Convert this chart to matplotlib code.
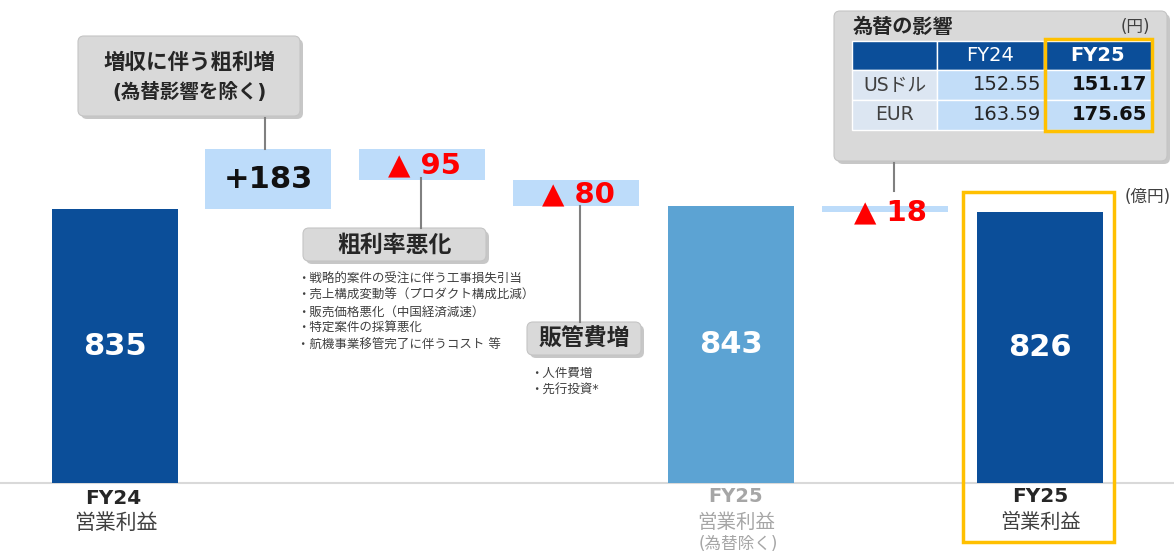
import matplotlib
matplotlib.use("Agg")
import matplotlib.pyplot as plt
from matplotlib.patches import FancyBboxPatch, Rectangle
import numpy as np

plt.rcParams['font.family'] = ['DejaVu Sans', 'Noto Sans CJK JP']

# ---------------- data ----------------
step_labels = ['FY24 営業利益', '増収に伴う粗利増', '粗利率悪化', '販管費増',
               'FY25 営業利益(為替除く)', '為替の影響', 'FY25 営業利益']
step_values = [835, 183, -95, -80, 843, -18, 826]
step_kind = ['total', 'delta', 'delta', 'delta', 'total', 'delta', 'total']
delta_texts = ['', '+183', '▲ 95', '▲ 80', '', '▲ 18', '']

fx_rows = ['USドル', 'EUR']
fx_cols = ['FY24', 'FY25']
fx_fy24 = [152.55, 163.59]
fx_fy25 = [151.17, 175.65]

gross_bullets = ['・戦略的案件の受注に伴う工事損失引当',
                 '・売上構成変動等（プロダクト構成比減）',
                 '・販売価格悪化（中国経済減速）',
                 '・特定案件の採算悪化',
                 '・航機事業移管完了に伴うコスト 等']
sga_bullets = ['・人件費増', '・先行投資*']

# ---------------- layout ----------------
W, H = 1174, 553
fig = plt.figure(figsize=(W / 100, H / 100), dpi=100)
fig.patch.set_facecolor('white')

base_px = 483.0
scale = 0.328
ax = fig.add_axes([0, 0, 1, 1])
ax.set_xlim(0, W)
ax.set_ylim((base_px - H) / scale, base_px / scale)
ax.axis('off')

ov = fig.add_axes([0, 0, 1, 1], zorder=5)
ov.set_xlim(0, W)
ov.set_ylim(H, 0)
ov.axis('off')
ov.patch.set_alpha(0)

dark_blue = '#0B4E99'
mid_blue = '#5CA3D3'
light_blue = '#BDDCFA'
red = '#FF0000'
yellow = '#FFC000'

x_centers = [115, 268, 422, 576, 731, 885, 1040]
bar_w = 126

# baseline
ax.axhline(0, color='#D9D9D9', lw=1.5, zorder=1)

running = 0
for i, (v, kind) in enumerate(zip(step_values, step_kind)):
    xc = x_centers[i]
    if kind == 'total':
        col = mid_blue if i == 4 else dark_blue
        ax.bar(xc, v, width=bar_w, bottom=0, color=col, zorder=3)
        ax.text(xc, v / 2, f'{v}', color='white', fontsize=22, fontweight='bold',
                ha='center', va='center', zorder=4)
        running = v
    else:
        ax.bar(xc, v, width=bar_w, bottom=running, color=light_blue, zorder=3)
        mid = running + v / 2
        if i == 1:
            ax.text(xc, mid, delta_texts[i], color='#111111', fontsize=22,
                    fontweight='bold', ha='center', va='center', zorder=4)
        running = running + v

# delta labels for negatives (placed over the boxes)
ov.text(424, 165, delta_texts[2], color=red, fontsize=21, fontweight='bold',
        ha='center', va='center')
ov.text(578, 194, delta_texts[3], color=red, fontsize=21, fontweight='bold',
        ha='center', va='center')
ov.text(890, 212, delta_texts[5], color=red, fontsize=21, fontweight='bold',
        ha='center', va='center')

# yellow frame around FY25 bar
ov.add_patch(Rectangle((963, 192), 151, 350, fill=False, edgecolor=yellow, lw=2.5))

# ---------------- callout boxes ----------------
def callout(x0, y0, x1, y1):
    ov.add_patch(FancyBboxPatch((x0 + 3, y0 + 3), x1 - x0, y1 - y0,
                                boxstyle='round,pad=0,rounding_size=6',
                                facecolor='#9A9A9A', edgecolor='none', alpha=0.55))
    ov.add_patch(FancyBboxPatch((x0, y0), x1 - x0, y1 - y0,
                                boxstyle='round,pad=0,rounding_size=6',
                                facecolor='#D9D9D9', edgecolor='#C4C4C4', lw=0.8))

# box 1
ov.plot([265, 265], [118, 149], color='#808080', lw=1.5)
callout(78, 36, 300, 116)
ov.text(189, 63, '増収に伴う粗利増', fontsize=15.5, fontweight='bold',
        color='#262626', ha='center', va='center')
ov.text(189, 92, '(為替影響を除く)', fontsize=14, fontweight='bold',
        color='#262626', ha='center', va='center')

# box 2
ov.plot([421, 421], [178, 228], color='#808080', lw=1.5)
callout(303, 228, 486, 261)
ov.text(394, 245, '粗利率悪化', fontsize=16.5, fontweight='bold',
        color='#262626', ha='center', va='center')
for k, t in enumerate(gross_bullets):
    ov.text(297, 279 + k * 16.5, t, fontsize=9, color='#404040',
            ha='left', va='center')

# box 3
ov.plot([580, 580], [206, 322], color='#808080', lw=1.5)
callout(527, 322, 641, 355)
ov.text(584, 339, '販管費増', fontsize=16.5, fontweight='bold',
        color='#262626', ha='center', va='center')
for k, t in enumerate(sga_bullets):
    ov.text(530, 374 + k * 16, t, fontsize=9, color='#404040',
            ha='left', va='center')

# ---------------- FX table ----------------
ov.plot([894, 894], [163, 191], color='#808080', lw=1.5)
callout(834, 11, 1167, 161)
ov.text(853, 27, '為替の影響', fontsize=14.5, fontweight='bold', color='#262626',
        ha='left', va='center')
ov.text(1150, 27, '(円)', fontsize=12, color='#404040', ha='right', va='center')

col_x = [852, 937, 1044, 1152]
row_y = [41, 70, 100, 130]
# header row
for c in range(3):
    ov.add_patch(Rectangle((col_x[c], row_y[0]), col_x[c + 1] - col_x[c],
                           row_y[1] - row_y[0], facecolor=dark_blue,
                           edgecolor='white', lw=1))
for c, name in enumerate(fx_cols):
    ov.text((col_x[c + 1] + col_x[c + 2]) / 2, (row_y[0] + row_y[1]) / 2, name,
            color='white', fontsize=14, fontweight='bold' if c == 1 else 'normal',
            ha='center', va='center')
for r, name in enumerate(fx_rows):
    y0, y1 = row_y[r + 1], row_y[r + 2]
    ov.add_patch(Rectangle((col_x[0], y0), col_x[1] - col_x[0], y1 - y0,
                           facecolor='#DCE6F2', edgecolor='white', lw=1))
    ov.add_patch(Rectangle((col_x[1], y0), col_x[3] - col_x[1], y1 - y0,
                           facecolor='#C2DDF8', edgecolor='white', lw=1))
    ov.text((col_x[0] + col_x[1]) / 2, (y0 + y1) / 2, name, color='#404040',
            fontsize=13.5, ha='center', va='center')
    ov.text(col_x[2] - 3, (y0 + y1) / 2, f'{fx_fy24[r]:.2f}', color='#262626',
            fontsize=14, ha='right', va='center')
    ov.text(col_x[3] - 5, (y0 + y1) / 2, f'{fx_fy25[r]:.2f}', color='#111111',
            fontsize=14, fontweight='bold', ha='right', va='center')
ov.add_patch(Rectangle((1045, 39), 107, 92, fill=False, edgecolor=yellow, lw=2.5))

ov.text(1125, 197, '(億円)', fontsize=12, color='#404040', ha='left', va='center')

# ---------------- bottom labels ----------------
ov.text(113, 498, 'FY24', fontsize=14.5, fontweight='bold', color='#262626',
        ha='center', va='center')
ov.text(116, 523, '営業利益', fontsize=15, color='#404040', ha='center', va='center')
ov.text(736, 497, 'FY25', fontsize=14, fontweight='bold', color='#A6A6A6',
        ha='center', va='center')
ov.text(736, 522, '営業利益', fontsize=14, color='#A6A6A6', ha='center', va='center')
ov.text(738, 544, '(為替除く)', fontsize=12, color='#A6A6A6', ha='center', va='center')
ov.text(1040, 497, 'FY25', fontsize=14.5, fontweight='bold', color='#262626',
        ha='center', va='center')
ov.text(1040, 522, '営業利益', fontsize=14.5, color='#404040', ha='center', va='center')

fig.savefig('out.png', dpi=100, facecolor='white')
